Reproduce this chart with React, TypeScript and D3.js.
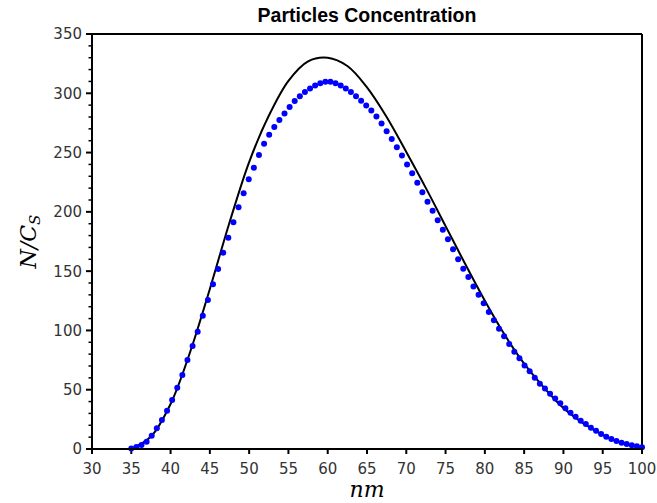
import React from "react";
import * as d3 from "d3";

const title = "Particles Concentration";
const xTicks = [30, 35, 40, 45, 50, 55, 60, 65, 70, 75, 80, 85, 90, 95, 100];
const yTicks = [0, 50, 100, 150, 200, 250, 300, 350];
const yMinorTicks = [10, 20, 30, 40, 60, 70, 80, 90, 110, 120, 130, 140, 160, 170, 180, 190, 210, 220, 230, 240, 260, 270, 280, 290, 310, 320, 330, 340];

// measured sample points (blue dots)
const sampleX = [
  35, 35.65, 36.3, 36.95, 37.6, 38.25, 38.9, 39.55, 40.2, 40.85,
  41.5, 42.15, 42.8, 43.45, 44.1, 44.75, 45.4, 46.05, 46.7, 47.35,
  48, 48.65, 49.3, 49.95, 50.6, 51.25, 51.9, 52.55, 53.2, 53.85,
  54.5, 55.15, 55.8, 56.45, 57.1, 57.75, 58.4, 59.05, 59.7, 60.35,
  61, 61.65, 62.3, 62.95, 63.6, 64.25, 64.9, 65.55, 66.2, 66.85,
  67.5, 68.15, 68.8, 69.45, 70.1, 70.75, 71.4, 72.05, 72.7, 73.35,
  74, 74.65, 75.3, 75.95, 76.6, 77.25, 77.9, 78.55, 79.2, 79.85,
  80.5, 81.15, 81.8, 82.45, 83.1, 83.75, 84.4, 85.05, 85.7, 86.35,
  87, 87.65, 88.3, 88.95, 89.6, 90.25, 90.9, 91.55, 92.2, 92.85,
  93.5, 94.15, 94.8, 95.45, 96.1, 96.75, 97.4, 98.05, 98.7, 99.35, 100,
];
const sampleY = [
  0.5, 1.6, 3.4, 6.2, 11.2, 17.4, 24.5, 32.3, 41.3, 51.7,
  62.4, 75.1, 86.9, 98.9, 112.4, 125.7, 138.9, 151.8, 165.6, 178.2,
  191.2, 203.8, 215.6, 227.4, 237.3, 248, 257.5, 265, 271.5, 277.5,
  283, 288.5, 293.5, 297.5, 301, 304, 306.5, 308.5, 309.7, 309.7,
  308.5, 306.5, 304, 301, 297.5, 293.8, 289.8, 285.5, 280.5, 274.5,
  268, 261.5, 254.5, 247.5, 240, 232.5, 224.5, 216.5, 208.5, 201,
  193, 185, 177, 168.5, 160, 152, 145, 137, 130, 123,
  115.5, 108.5, 101.5, 95, 88.5, 82, 76.5, 70.5, 65.5, 60,
  55, 51, 46.5, 42.5, 38.5, 34.3, 30.6, 27.2, 23.9, 21.1,
  18, 15.4, 12.7, 10.4, 8.4, 6.7, 5.3, 4.2, 3.1, 2.3, 1.4,
];

// model curve (black line)
const modelX = [35, 37.5, 40, 42.5, 45, 47.5, 50, 52.5, 55, 57.5, 60, 62.5, 65, 67.5, 70, 72.5, 75, 77.5, 80, 82.5, 85, 87.5, 90, 92.5, 95, 97.5, 100];
const modelY = [0, 10.5, 38, 82, 135, 191, 242, 281, 310.5, 327, 330, 323, 305, 280, 250.5, 220, 188, 156, 125, 96.5, 72, 52, 34.5, 21.8, 12, 5, 1.4];

const W = 657, H = 503;
const M = { left: 92, right: 642, top: 34, bottom: 449 };

export default function App() {
  const x = d3.scaleLinear().domain([30, 100]).range([M.left, M.right]);
  const y = d3.scaleLinear().domain([0, 350]).range([M.bottom, M.top]);
  const line = d3
    .line<number>()
    .x((_, i) => x(modelX[i]))
    .y((d) => y(d))
    .curve(d3.curveCatmullRom.alpha(0.5));
  const lineD = line(modelY) || "";
  const tickFont = "'DejaVu Sans', Verdana, sans-serif";
  return (
    <svg width={W} height={H} style={{ position: "absolute", left: 0, top: 0, background: "#fff" }}>
      <rect x={0} y={0} width={W} height={H} fill="#fff" />
      <text x={(M.left + M.right) / 2} y={21.5} textAnchor="middle" fontFamily="'Liberation Sans', Arial, sans-serif" fontWeight="bold" fontSize={19.5} fill="#000">
        {title}
      </text>
      {/* frame */}
      <line x1={M.left} x2={M.right} y1={M.top} y2={M.top} stroke="#000" strokeWidth={2} />
      <line x1={M.right} x2={M.right} y1={M.top} y2={M.bottom} stroke="#000" strokeWidth={2} />
      {/* y minor ticks */}
      {yMinorTicks.map((t) => (
        <line key={"ym" + t} x1={M.left - 3.5} x2={M.left} y1={y(t)} y2={y(t)} stroke="#000" strokeWidth={1.5} />
      ))}
      {yTicks.map((t) => (
        <g key={"y" + t}>
          <line x1={M.left - 6} x2={M.left} y1={y(t)} y2={y(t)} stroke="#000" strokeWidth={2} />
          <text x={M.left - 10} y={y(t)} dy="0.36em" textAnchor="end" fontFamily={tickFont} fontSize={15} fill="#333">
            {t}
          </text>
        </g>
      ))}
      {xTicks.map((t) => (
        <g key={"x" + t}>
          <line x1={x(t)} x2={x(t)} y1={M.bottom} y2={M.bottom + 5} stroke="#000" strokeWidth={2} />
          <text x={x(t)} y={474} textAnchor="middle" fontFamily={tickFont} fontSize={15} fill="#333">
            {t}
          </text>
        </g>
      ))}
      <path d={lineD} fill="none" stroke="#000" strokeWidth={2} />
      {sampleY.map((v, i) => (
        <circle key={"d" + i} cx={x(sampleX[i])} cy={y(v)} r={3} fill="#0000ff" />
      ))}
      {/* axes */}
      <line x1={M.left} x2={M.left} y1={M.top - 1} y2={M.bottom + 1} stroke="#000" strokeWidth={2} />
      <line x1={M.left - 1} x2={M.right + 1} y1={M.bottom} y2={M.bottom} stroke="#000" strokeWidth={2} />
      <text x={(M.left + M.right) / 2} y={497} textAnchor="middle" fontFamily="'DejaVu Serif', serif" fontStyle="italic" fontSize={22} fill="#000">
        nm
      </text>
      <text transform={`translate(36,${(M.top + M.bottom) / 2}) rotate(-90)`} textAnchor="middle" fontFamily="'DejaVu Serif', serif" fontStyle="italic" fontSize={22} fill="#000">
        N/C<tspan dy={4} fontSize={15}>S</tspan>
      </text>
    </svg>
  );
}
